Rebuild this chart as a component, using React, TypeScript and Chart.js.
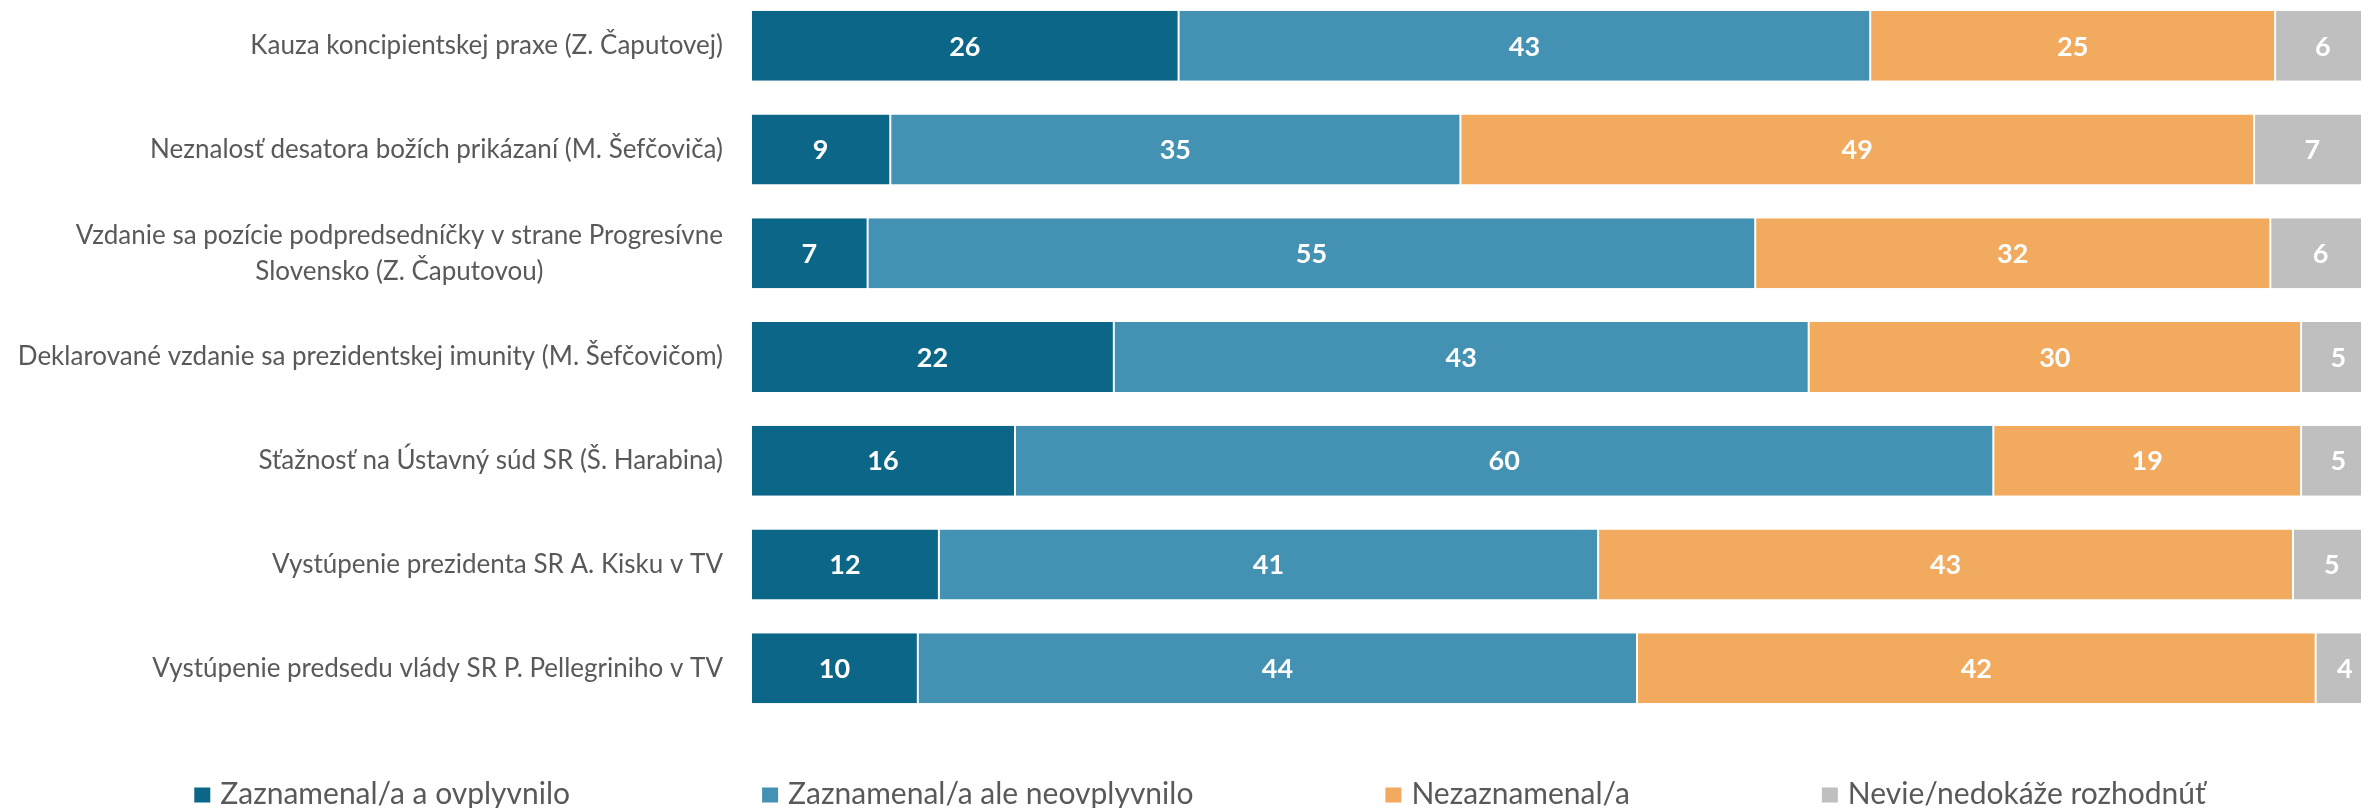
import React, { useEffect, useRef } from "react";
import { Chart, registerables } from "chart.js";

Chart.register(...registerables);

const categories: (string | string[])[] = [
  "Kauza koncipientskej praxe (Z. Čaputovej)",
  "Neznalosť desatora božích prikázaní (M. Šefčoviča)",
  ["Vzdanie sa pozície podpredsedníčky v strane Progresívne", "Slovensko (Z. Čaputovou)"],
  "Deklarované vzdanie sa prezidentskej imunity (M. Šefčovičom)",
  "Sťažnosť na Ústavný súd SR (Š. Harabina)",
  "Vystúpenie prezidenta SR A. Kisku v TV",
  "Vystúpenie predsedu vlády SR P. Pellegriniho v TV",
];

const seriesNames = [
  "Zaznamenal/a a ovplyvnilo",
  "Zaznamenal/a ale neovplyvnilo",
  "Nezaznamenal/a",
  "Nevie/nedokáže rozhodnúť",
];

const affected = [26.4, 8.6, 7.2, 22.4, 16.3, 11.6, 10.3];
const notAffected = [42.7, 35.2, 54.8, 42.9, 60.4, 40.7, 44.4];
const notNoticed = [25.0, 49.0, 31.8, 30.4, 19.0, 42.9, 41.9];
const dontKnow = [5.9, 7.2, 6.2, 4.6, 4.6, 4.8, 3.6];

const seriesColors = ["#0B6687", "#4392B4", "#F2AB5E", "#BFBFBF"];

const FONT = "Lato, 'Open Sans', sans-serif";
const TEXT_COLOR = "#595959";

export default function App() {
  const ref = useRef<HTMLCanvasElement | null>(null);

  useEffect(() => {
    document.body.style.margin = "0";
    document.body.style.overflow = "hidden";
    const canvas = ref.current;
    if (!canvas) return;

    const yLabelsPlugin = {
      id: "yLabels",
      afterDraw(chart: any) {
        const ctx = chart.ctx;
        const ys = chart.scales.y;
        const area = chart.chartArea;
        ctx.save();
        ctx.font = `26px ${FONT}`;
        ctx.fillStyle = TEXT_COLOR;
        ctx.textBaseline = "middle";
        const right = area.left - 28;
        categories.forEach((lab, i) => {
          const y = ys.getPixelForValue(i);
          if (Array.isArray(lab)) {
            const w = Math.max(...lab.map((l) => ctx.measureText(l).width));
            const cx = right - w / 2;
            ctx.textAlign = "center";
            const lh = 36;
            lab.forEach((l, j) => ctx.fillText(l, cx, y + (j - (lab.length - 1) / 2) * lh));
          } else {
            ctx.textAlign = "right";
            ctx.fillText(lab, right, y);
          }
        });
        ctx.restore();
      },
    };

    const valueLabelsPlugin = {
      id: "valueLabels",
      afterDatasetsDraw(chart: any) {
        const ctx = chart.ctx;
        ctx.save();
        ctx.font = `bold 27px ${FONT}`;
        ctx.fillStyle = "#FFFFFF";
        ctx.textAlign = "center";
        ctx.textBaseline = "middle";
        chart.data.datasets.forEach((ds: any, d: number) => {
          const meta = chart.getDatasetMeta(d);
          meta.data.forEach((el: any, i: number) => {
            const { x, base, y } = el.getProps(["x", "base", "y"], true);
            ctx.fillText(String(Math.round(ds.data[i])), (x + base) / 2, y + 1);
          });
        });
        ctx.restore();
      },
    };

    const legendPlugin = {
      id: "customLegend",
      afterDraw(chart: any) {
        const ctx = chart.ctx;
        ctx.save();
        ctx.font = `30px ${FONT}`;
        const box = 16;
        const boxGap = 10;
        const itemGap = 192;
        const items = chart.data.datasets.map((ds: any) => ({ text: ds.label, color: ds.backgroundColor }));
        const widths = items.map((it: any) => box + boxGap + ctx.measureText(it.text).width);
        const total = widths.reduce((a: number, b: number) => a + b, 0) + itemGap * (items.length - 1);
        let x = 1200 - total / 2;
        const cy = chart.height - 14;
        ctx.textAlign = "left";
        ctx.textBaseline = "middle";
        items.forEach((it: any, i: number) => {
          ctx.fillStyle = it.color;
          ctx.fillRect(x, cy - 6.5, box, 15);
          ctx.fillStyle = TEXT_COLOR;
          ctx.fillText(it.text, x + box + boxGap, cy);
          x += widths[i] + itemGap;
        });
        ctx.restore();
      },
    };

    const seriesData = [affected, notAffected, notNoticed, dontKnow];

    const chart = new Chart(canvas, {
      type: "bar",
      data: {
        labels: categories as any,
        datasets: seriesNames.map((name, k) => ({
          label: name,
          data: seriesData[k],
          backgroundColor: seriesColors[k],
          borderColor: "#FFFFFF",
          borderWidth: { left: 1, right: 1, top: 0, bottom: 0 },
          borderSkipped: false,
          barPercentage: 0.675,
          categoryPercentage: 1,
        })),
      },
      options: {
        indexAxis: "y",
        responsive: false,
        animation: false,
        events: [],
        layout: { padding: { top: 0, bottom: 88, left: 0, right: 0 } },
        plugins: {
          legend: { display: false },
          tooltip: { enabled: false },
          title: { display: false },
        },
        scales: {
          x: {
            stacked: true,
            display: false,
            min: 0,
            max: 99.4,
          },
          y: {
            stacked: true,
            display: true,
            grid: { display: false },
            border: { display: false },
            ticks: { display: false },
            afterFit: (scale: any) => {
              scale.width = 751;
            },
          },
        },
      } as any,
      plugins: [yLabelsPlugin, valueLabelsPlugin, legendPlugin],
    });

    return () => chart.destroy();
  }, []);

  return (
    <div style={{ position: "absolute", top: -6, left: 0, width: 2361, height: 814 }}>
      <canvas ref={ref} width={2361} height={814} style={{ display: "block", width: 2361, height: 814 }} />
    </div>
  );
}
